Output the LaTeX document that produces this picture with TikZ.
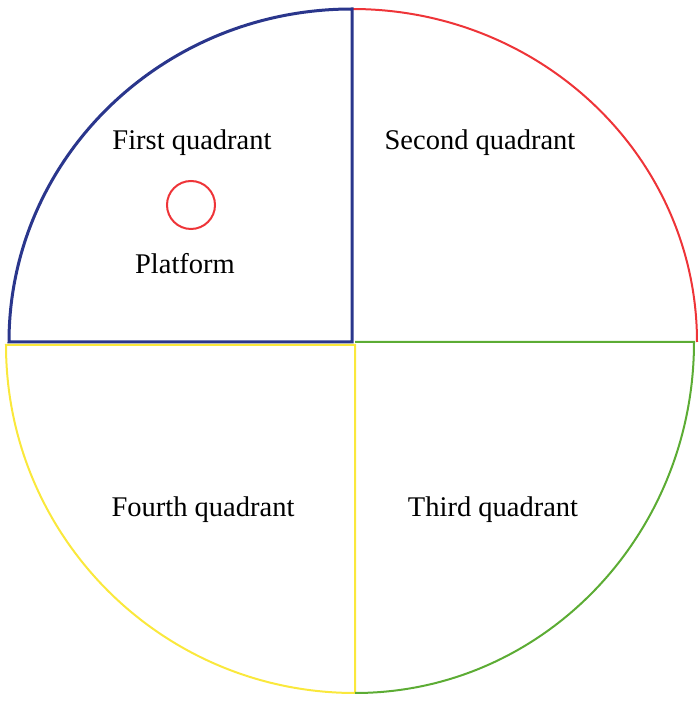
\documentclass[tikz,border=0pt]{standalone}
\usepackage{fontspec}
\setmainfont{Liberation Serif}
\usepackage{tikz}
\usetikzlibrary{positioning}

\definecolor{qblue}{RGB}{42,54,140}
\definecolor{qred}{RGB}{238,52,56}
\definecolor{qgreen}{RGB}{92,172,52}
\definecolor{qyellow}{RGB}{250,232,60}

\begin{document}
\begin{tikzpicture}[x=1pt, y=1pt,
    edge/.style={line width=2pt, line join=miter},
    label/.style={font=\fontsize{28.5}{34}\selectfont, inner sep=0pt}]
    \useasboundingbox (0,0) rectangle (700,702);
    % quadrant outlines
    \coordinate (O) at (352,360);
    \draw[edge, qyellow] (355,9) -- (355,357) -- (6,357)
        arc[start angle=180, end angle=270, x radius=349pt, y radius=348pt];
    \draw[edge, qgreen] (355,360) -- (694,360)
        arc[start angle=0, end angle=-90, x radius=339pt, y radius=351pt];
    \draw[edge, qred] (352,693)
        arc[start angle=90, end angle=0, x radius=345pt, y radius=333pt];
    \draw[edge, qblue, line width=3pt] (O) -- (9,360)
        arc[start angle=180, end angle=90, x radius=343pt, y radius=333pt] -- cycle;
    % platform
    \draw[qred, line width=2pt] (191,497) circle[radius=24pt];
    % labels
    \node[label] (q1) at (192,559) {First quadrant};
    \node[label] (q2) at (480,559) {Second quadrant};
    \node[label] (pf) at (185,438) {Platform};
    \node[label] (q4) at (203,192) {Fourth quadrant};
    \node[label] (q3) at (493,192) {Third quadrant};
\end{tikzpicture}
\end{document}
